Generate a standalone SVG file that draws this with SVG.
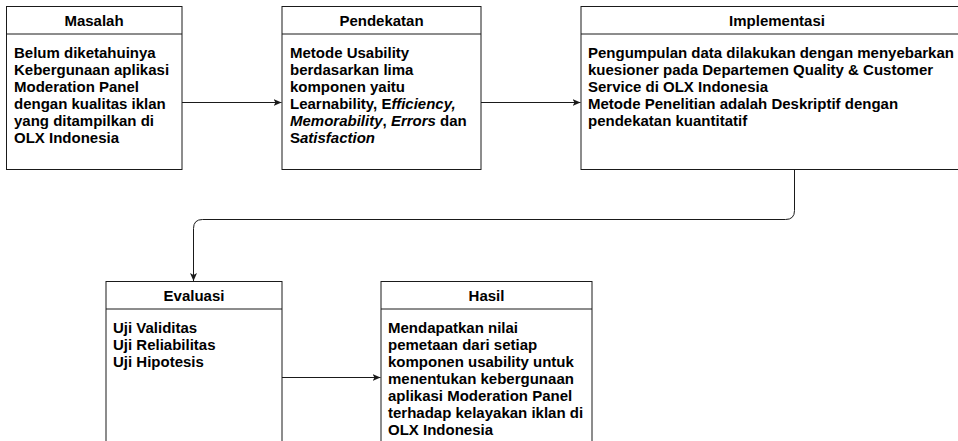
<svg xmlns="http://www.w3.org/2000/svg" width="958" height="441" viewBox="0 0 958 441">
<style>
.box{fill:#fff;stroke:#1a1a1a;stroke-width:1}
.hdr{stroke:#1a1a1a;stroke-width:1}
text{font-family:"Liberation Sans",Arial,Helvetica,sans-serif;font-weight:bold;font-size:15px;fill:#000}
.title{text-anchor:middle}
.conn{fill:none;stroke:#1a1a1a;stroke-width:1}
</style>
<defs>
<marker id="arr" markerUnits="userSpaceOnUse" markerWidth="10" markerHeight="10" viewBox="0 0 10 10" refX="8" refY="5" orient="auto">
<path d="M0,1.5 L8,5 L0,8.5 L2,5 Z" fill="#1a1a1a"/>
</marker>
</defs>
<rect width="958" height="441" fill="#fff"/>

<g id="masalah">
<rect class="box" x="6.5" y="6.5" width="175.5" height="163"/>
<line class="hdr" x1="6.5" y1="34" x2="182" y2="34"/>
<text class="title" x="94" y="26">Masalah</text>
<text x="14" y="57.5">Belum diketahuinya</text>
<text x="14" y="74.5">Kebergunaan aplikasi</text>
<text x="14" y="91.5">Moderation Panel</text>
<text x="14" y="108.5">dengan kualitas iklan</text>
<text x="14" y="125.5">yang ditampilkan di</text>
<text x="14" y="142.5">OLX Indonesia</text>
</g>

<g id="pendekatan">
<rect class="box" x="282" y="6.5" width="199" height="163"/>
<line class="hdr" x1="282" y1="34" x2="481" y2="34"/>
<text class="title" x="381.5" y="26">Pendekatan</text>
<text x="290" y="57.5">Metode Usability</text>
<text x="290" y="74.5">berdasarkan lima</text>
<text x="290" y="91.5">komponen yaitu</text>
<text x="290" y="108.5">Learnability, E<tspan font-style="italic">fficiency,</tspan></text>
<text x="290" y="125.5"><tspan font-style="italic">Memorability</tspan>, <tspan font-style="italic">Errors</tspan> dan</text>
<text x="290" y="142.5">S<tspan font-style="italic">atisfaction</tspan></text>
</g>

<g id="implementasi">
<rect class="box" x="581" y="6.5" width="392" height="163"/>
<line class="hdr" x1="581" y1="34" x2="973" y2="34"/>
<text class="title" x="777" y="26">Implementasi</text>
<text x="588" y="57.5">Pengumpulan data dilakukan dengan menyebarkan</text>
<text x="588" y="74.5">kuesioner pada Departemen Quality &amp; Customer</text>
<text x="588" y="91.5">Service di OLX Indonesia</text>
<text x="588" y="108.5">Metode Penelitian adalah Deskriptif dengan</text>
<text x="588" y="125.5">pendekatan kuantitatif</text>
</g>

<g id="evaluasi">
<rect class="box" x="106" y="281.5" width="176" height="180"/>
<line class="hdr" x1="106" y1="309" x2="282" y2="309"/>
<text class="title" x="194" y="301">Evaluasi</text>
<text x="113" y="332.5">Uji Validitas</text>
<text x="113" y="349.5">Uji Reliabilitas</text>
<text x="113" y="366.5">Uji Hipotesis</text>
</g>

<g id="hasil">
<rect class="box" x="381" y="281.5" width="211" height="180"/>
<line class="hdr" x1="381" y1="309" x2="592" y2="309"/>
<text class="title" x="486.5" y="301">Hasil</text>
<text x="388" y="332.5">Mendapatkan nilai</text>
<text x="388" y="349.5">pemetaan dari setiap</text>
<text x="388" y="366.5">komponen usability untuk</text>
<text x="388" y="383.5">menentukan kebergunaan</text>
<text x="388" y="400.5">aplikasi Moderation Panel</text>
<text x="388" y="417.5">terhadap kelayakan iklan di</text>
<text x="388" y="434.5">OLX Indonesia</text>
</g>

<g id="connectors">
<path class="conn" d="M182,102.5 L281.5,102.5" marker-end="url(#arr)"/>
<path class="conn" d="M481,102.5 L580.5,102.5" marker-end="url(#arr)"/>
<path class="conn" d="M794.5,169.5 L794.5,210.5 Q794.5,219.5 785.5,219.5 L202.5,219.5 Q193.5,219.5 193.5,228.5 L193.5,281" marker-end="url(#arr)"/>
<path class="conn" d="M282,377.5 L380.5,377.5" marker-end="url(#arr)"/>
</g>
</svg>
